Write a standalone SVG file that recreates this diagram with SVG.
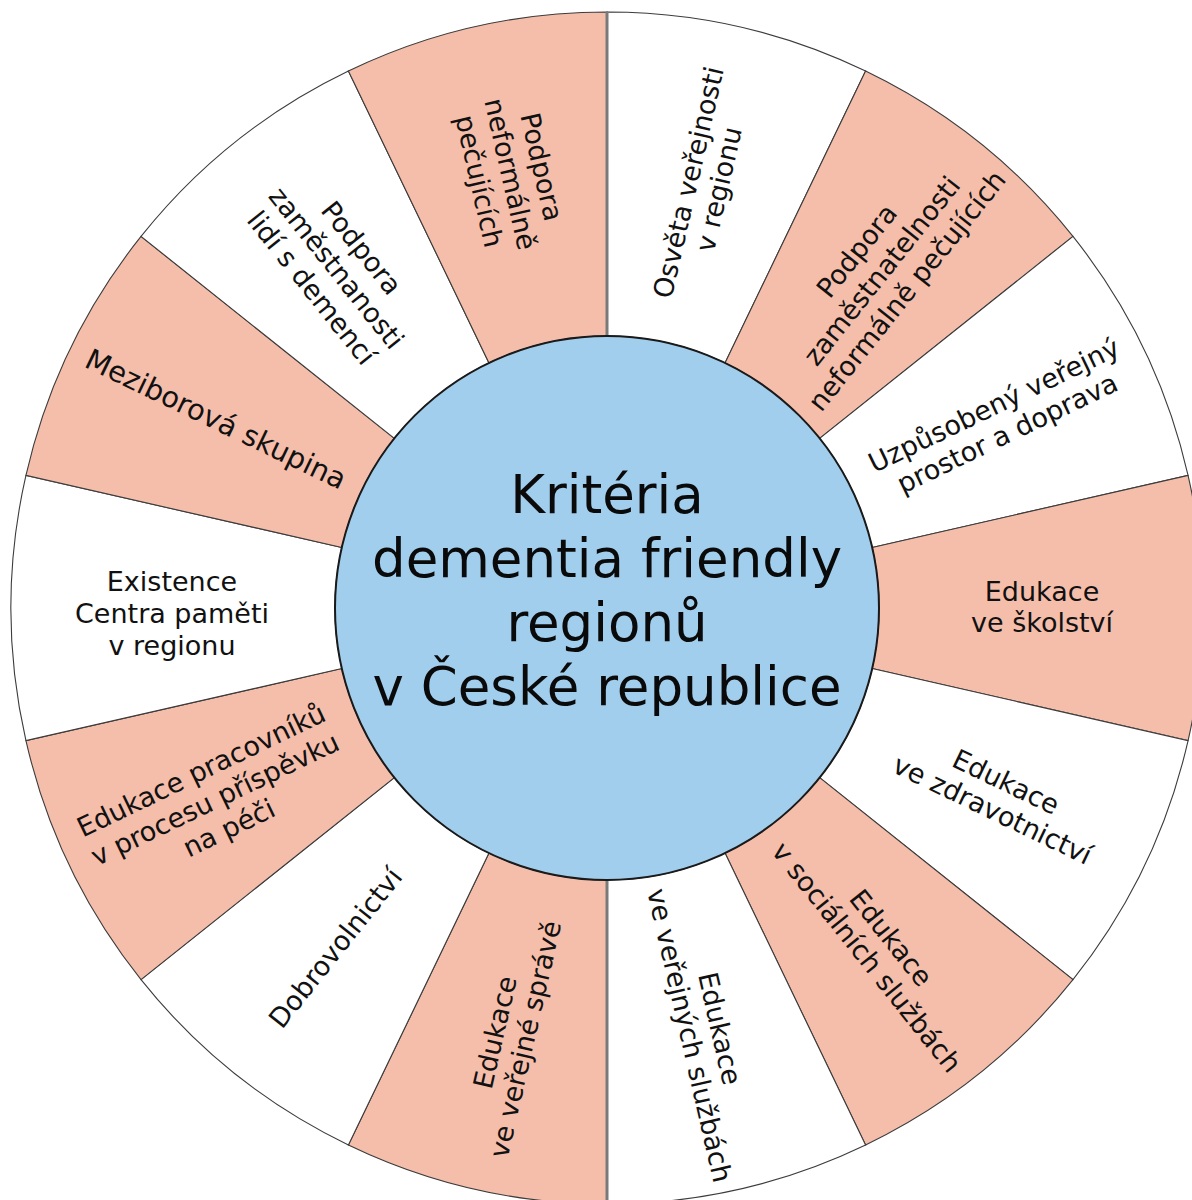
<svg xmlns="http://www.w3.org/2000/svg" width="1192" height="1200" viewBox="0 0 1192 1200">
<style>
.bg{fill:#ffffff}
.w{fill:#ffffff;stroke:#3c3c3c;stroke-width:1.1}
.s{fill:#F5BEAB;stroke:#3c3c3c;stroke-width:1.1}
.div{stroke:#7a7a7a;stroke-width:3;fill:none}
.hub{fill:#A2CEED;stroke:#1a1a1a;stroke-width:2}
.lbl{font-family:"DejaVu Sans",Verdana,sans-serif;font-size:27px;fill:#111111;text-anchor:middle}
.big{font-size:28.8px}
.title{font-family:"DejaVu Sans",Verdana,sans-serif;font-size:53px;fill:#0a0a0a;text-anchor:middle}
</style>
<rect class="bg" x="0" y="0" width="1192" height="1200"/>
<g id="seg1"><path class="w" d="M607,336 L607,12 A596,596 0 0 1 865.59,71.02 L725.02,362.94 A272,272 0 0 0 607,336 Z"/>
<text class="lbl" transform="translate(704.5,186) rotate(-77.14)"><tspan x="0" y="-7">Osvěta veřejnosti</tspan><tspan x="0" y="24">v regionu</tspan></text></g>
<g id="seg2"><path class="s" d="M725.02,362.94 L865.59,71.02 A596,596 0 0 1 1072.97,236.40 L819.66,438.41 A272,272 0 0 0 725.02,362.94 Z"/>
<text class="lbl" transform="translate(878.2,267.9) rotate(-51.43)"><tspan x="0" y="-18">Podpora</tspan><tspan x="0" y="14">zaměstnatelnosti</tspan><tspan x="0" y="46">neformálně pečujících</tspan></text></g>
<g id="seg3"><path class="w" d="M819.66,438.41 L1072.97,236.40 A596,596 0 0 1 1188.06,475.38 L872.18,547.47 A272,272 0 0 0 819.66,438.41 Z"/>
<text class="lbl" transform="translate(1001,420) rotate(-25.71)"><tspan x="0" y="-7">Uzpůsobený veřejný</tspan><tspan x="0" y="24">prostor a doprava</tspan></text></g>
<g id="seg4"><path class="s" d="M872.18,547.47 L1188.06,475.38 A596,596 0 0 1 1188.06,740.62 L872.18,668.53 A272,272 0 0 0 872.18,547.47 Z"/>
<text class="lbl" transform="translate(1042,608)"><tspan x="0" y="-7">Edukace</tspan><tspan x="0" y="24">ve školství</tspan></text></g>
<g id="seg5"><path class="w" d="M872.18,668.53 L1188.06,740.62 A596,596 0 0 1 1072.97,979.60 L819.66,777.59 A272,272 0 0 0 872.18,668.53 Z"/>
<text class="lbl" transform="translate(998.9,796.7) rotate(25.71)"><tspan x="0" y="-7">Edukace</tspan><tspan x="0" y="24">ve zdravotnictví</tspan></text></g>
<g id="seg6"><path class="s" d="M819.66,777.59 L1072.97,979.60 A596,596 0 0 1 865.59,1144.98 L725.02,853.06 A272,272 0 0 0 819.66,777.59 Z"/>
<text class="lbl" transform="translate(878.2,948.1) rotate(51.43)"><tspan x="0" y="-7">Edukace</tspan><tspan x="0" y="24">v sociálních službách</tspan></text></g>
<g id="seg7"><path class="w" d="M725.02,853.06 L865.59,1144.98 A596,596 0 0 1 607,1204 L607,880 A272,272 0 0 0 725.02,853.06 Z"/>
<text class="lbl" transform="translate(703.8,1032.1) rotate(77.14)"><tspan x="0" y="-7">Edukace</tspan><tspan x="0" y="24">ve veřejných službách</tspan></text></g>
<g id="seg8"><path class="s" d="M607,880 L607,1204 A596,596 0 0 1 348.41,1144.98 L488.98,853.06 A272,272 0 0 0 607,880 Z"/>
<text class="lbl" transform="translate(511,1036) rotate(-77.14)"><tspan x="0" y="-7">Edukace</tspan><tspan x="0" y="24">ve veřejné správě</tspan></text></g>
<g id="seg9"><path class="w" d="M488.98,853.06 L348.41,1144.98 A596,596 0 0 1 141.03,979.60 L394.34,777.59 A272,272 0 0 0 488.98,853.06 Z"/>
<text class="lbl" transform="translate(335.8,948.1) rotate(-51.43)"><tspan x="0" y="9">Dobrovolnictví</tspan></text></g>
<g id="seg10"><path class="s" d="M394.34,777.59 L141.03,979.60 A596,596 0 0 1 25.94,740.62 L341.82,668.53 A272,272 0 0 0 394.34,777.59 Z"/>
<text class="lbl" transform="translate(213,795) rotate(-25.71)"><tspan x="0" y="-18">Edukace pracovníků</tspan><tspan x="0" y="14">v procesu příspěvku</tspan><tspan x="0" y="46">na péči</tspan></text></g>
<g id="seg11"><path class="w" d="M341.82,668.53 L25.94,740.62 A596,596 0 0 1 25.94,475.38 L341.82,547.47 A272,272 0 0 0 341.82,668.53 Z"/>
<text class="lbl" transform="translate(172,608)"><tspan x="0" y="-17">Existence</tspan><tspan x="0" y="15">Centra paměti</tspan><tspan x="0" y="47">v regionu</tspan></text></g>
<g id="seg12"><path class="s" d="M341.82,547.47 L25.94,475.38 A596,596 0 0 1 141.03,236.40 L394.34,438.41 A272,272 0 0 0 341.82,547.47 Z"/>
<text class="lbl big" transform="translate(215.5,420) rotate(25.71)"><tspan x="0" y="9">Meziborová skupina</tspan></text></g>
<g id="seg13"><path class="w" d="M394.34,438.41 L141.03,236.40 A596,596 0 0 1 348.41,71.02 L488.98,362.94 A272,272 0 0 0 394.34,438.41 Z"/>
<text class="lbl" transform="translate(340,265) rotate(51.43)"><tspan x="0" y="-18">Podpora</tspan><tspan x="0" y="14">zaměstnanosti</tspan><tspan x="0" y="46">lidí s demencí</tspan></text></g>
<g id="seg14"><path class="s" d="M488.98,362.94 L348.41,71.02 A596,596 0 0 1 607,12 L607,336 A272,272 0 0 0 488.98,362.94 Z"/>
<text class="lbl" transform="translate(515,173) rotate(77.14)"><tspan x="0" y="-18">Podpora</tspan><tspan x="0" y="14">neformálně</tspan><tspan x="0" y="46">pečujících</tspan></text></g>
<g id="connectors">
<line class="div" x1="607" y1="12" x2="607" y2="336"/>
<line class="div" x1="607" y1="880" x2="607" y2="1204"/>
</g>
<g id="center">
<circle class="hub" cx="607" cy="608" r="272"/>
<text class="title" x="607" y="513">Kritéria</text>
<text class="title" x="607" y="577">dementia friendly</text>
<text class="title" x="607" y="641">regionů</text>
<text class="title" x="607" y="705">v České republice</text>
</g>
</svg>
